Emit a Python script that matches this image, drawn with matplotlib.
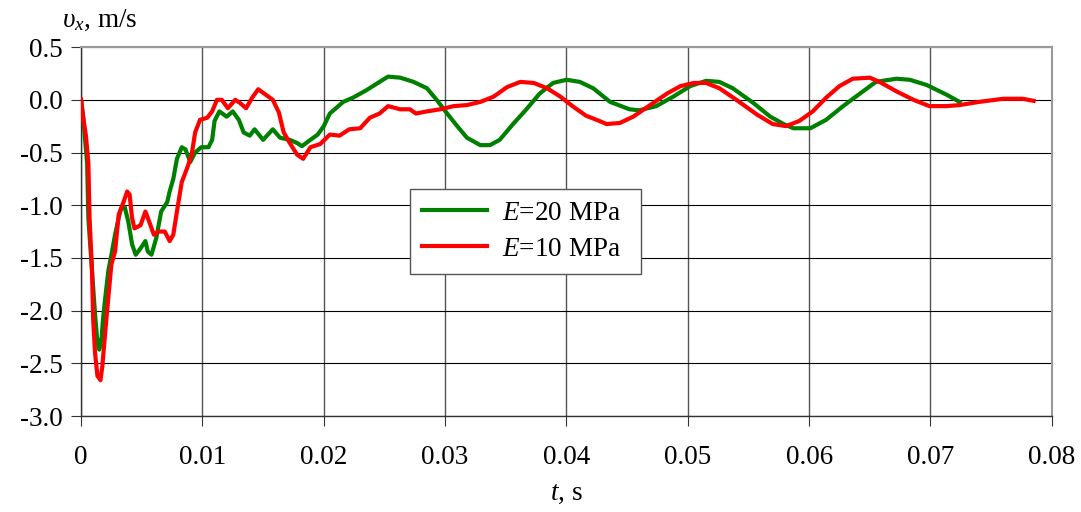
import numpy as np
import matplotlib
matplotlib.use("Agg")
import matplotlib.pyplot as plt

plt.rcParams['font.family'] = ['Liberation Serif', 'DejaVu Serif']
plt.rcParams['mathtext.fontset'] = 'custom'
plt.rcParams['mathtext.rm'] = 'Liberation Serif'
plt.rcParams['mathtext.it'] = 'Liberation Serif:italic'

# =========================
# DATA
# =========================
t_e20 = [0.0, 0.0002, 0.0003, 0.0005, 0.0006, 0.0009, 0.00115, 0.00135, 0.0015, 0.0017,
         0.0018, 0.002, 0.00225, 0.0025, 0.0028, 0.0031, 0.0033, 0.0036, 0.0039, 0.0042,
         0.0045, 0.0049, 0.0053, 0.0055, 0.0058, 0.0062, 0.0066, 0.0071, 0.0073, 0.0076,
         0.0079, 0.0083, 0.0086, 0.009, 0.0094, 0.0099, 0.0105, 0.0108, 0.011, 0.0114,
         0.012, 0.0125, 0.013, 0.0134, 0.0139, 0.0143, 0.015, 0.0158, 0.0164, 0.0172,
         0.0178, 0.0182, 0.0189, 0.0195, 0.02, 0.0205, 0.0216, 0.0224, 0.0235, 0.0246,
         0.0253, 0.0263, 0.0274, 0.0285, 0.0293, 0.0301, 0.031, 0.0318, 0.0329, 0.0337,
         0.0345, 0.0356, 0.0367, 0.0378, 0.0389, 0.04, 0.0411, 0.0422, 0.0436, 0.0452,
         0.046, 0.0474, 0.0488, 0.0502, 0.0515, 0.0526, 0.0537, 0.0554, 0.0568, 0.0579,
         0.0587, 0.0601, 0.0614, 0.0628, 0.0642, 0.0655, 0.0672, 0.0683, 0.0697, 0.0713,
         0.0724]
v_e20 = [0.0, -0.19, -0.34, -0.6, -1.12, -1.62, -2.03, -2.31, -2.37, -2.25,
         -2.09, -1.87, -1.62, -1.47, -1.28, -1.12, -1.03, -1.02, -1.16, -1.37,
         -1.47, -1.41, -1.34, -1.44, -1.47, -1.31, -1.06, -0.97, -0.87, -0.75,
         -0.56, -0.45, -0.47, -0.59, -0.5, -0.45, -0.45, -0.38, -0.2, -0.11,
         -0.16, -0.11, -0.19, -0.31, -0.34, -0.28, -0.38, -0.28, -0.36, -0.38,
         -0.41, -0.44, -0.38, -0.33, -0.25, -0.13, -0.02, 0.02, 0.09, 0.17,
         0.22, 0.21, 0.17, 0.11, 0.0, -0.12, -0.25, -0.36, -0.43, -0.43,
         -0.38, -0.23, -0.09, 0.06, 0.16, 0.19, 0.17, 0.11, -0.02, -0.09,
         -0.1, -0.06, 0.03, 0.13, 0.18, 0.17, 0.11, -0.03, -0.16, -0.23,
         -0.27, -0.27, -0.19, -0.06, 0.06, 0.17, 0.2, 0.19, 0.14, 0.05,
         -0.02]

t_e10 = [0.0, 0.0002, 0.0004, 0.0006, 0.0007, 0.0009, 0.001, 0.00115, 0.00135, 0.0016,
         0.00175, 0.002, 0.00225, 0.0025, 0.0028, 0.0031, 0.0035, 0.0038, 0.004, 0.0042,
         0.0044, 0.0049, 0.0053, 0.0055, 0.006, 0.0064, 0.0069, 0.0073, 0.0076, 0.0079,
         0.0083, 0.0087, 0.0091, 0.0094, 0.0098, 0.0104, 0.0108, 0.0112, 0.0116, 0.0121,
         0.0127, 0.0131, 0.0136, 0.0141, 0.0146, 0.0152, 0.0158, 0.0163, 0.0167, 0.0172,
         0.0178, 0.0183, 0.0189, 0.0197, 0.0205, 0.0213, 0.0221, 0.023, 0.0238, 0.0246,
         0.0253, 0.0263, 0.0271, 0.0276, 0.0285, 0.0296, 0.0307, 0.0318, 0.0329, 0.034,
         0.0351, 0.0362, 0.0373, 0.0384, 0.0395, 0.0405, 0.0416, 0.0427, 0.0433, 0.0444,
         0.0455, 0.0469, 0.0483, 0.0494, 0.0505, 0.0515, 0.0526, 0.054, 0.0557, 0.057,
         0.0581, 0.0592, 0.0603, 0.0614, 0.0625, 0.0636, 0.065, 0.0658, 0.0672, 0.0686,
         0.0699, 0.0713, 0.0724, 0.074, 0.076, 0.0776, 0.0785]
v_e10 = [0.0, -0.19, -0.34, -0.6, -1.12, -1.62, -2.09, -2.4, -2.62, -2.66,
         -2.53, -2.19, -1.87, -1.56, -1.44, -1.09, -0.97, -0.87, -0.9, -1.12,
         -1.22, -1.19, -1.06, -1.12, -1.28, -1.25, -1.25, -1.34, -1.28, -1.06,
         -0.78, -0.66, -0.53, -0.31, -0.19, -0.17, -0.11, 0.0, 0.0, -0.08,
         0.0, -0.03, -0.08, 0.02, 0.1, 0.05, 0.0, -0.12, -0.31, -0.41,
         -0.52, -0.56, -0.45, -0.42, -0.33, -0.34, -0.28, -0.27, -0.17, -0.13,
         -0.06, -0.09, -0.09, -0.13, -0.11, -0.09, -0.06, -0.05, -0.02, 0.03,
         0.12, 0.17, 0.16, 0.11, 0.03, -0.06, -0.15, -0.2, -0.23, -0.22,
         -0.16, -0.05, 0.06, 0.13, 0.16, 0.16, 0.11, 0.0, -0.14, -0.23,
         -0.25, -0.2, -0.11, 0.02, 0.13, 0.2, 0.21, 0.17, 0.08, 0.0,
         -0.06, -0.06, -0.05, -0.02, 0.01, 0.01, -0.01]

x_ticks = [0, 0.01, 0.02, 0.03, 0.04, 0.05, 0.06, 0.07, 0.08]
x_labels = ["0", "0.01", "0.02", "0.03", "0.04", "0.05", "0.06", "0.07", "0.08"]
y_ticks = [-3.0, -2.5, -2.0, -1.5, -1.0, -0.5, 0.0, 0.5]

# =========================
# PLOT
# =========================
fig = plt.figure(figsize=(10.81, 5.12), dpi=100)
ax = fig.add_axes([0.075, 0.1875, 0.898, 0.7205])

ax.plot(t_e20, v_e20, color="#008000", lw=3.0, label=r"$E$=20 MPa  ", zorder=3)
ax.plot(t_e10, v_e10, color="#ff0000", lw=3.0, label=r"$E$=10 MPa  ", zorder=4)

ax.set_xlim(0, 0.08)
ax.set_ylim(-3.0, 0.5)
ax.set_xticks(x_ticks)
ax.set_xticklabels(x_labels)
ax.set_yticks(y_ticks)
ax.set_yticklabels([f"{v:.1f}" for v in y_ticks])
ax.grid(True, color="black", lw=0.8)
ax.xaxis.grid(True, color="#555555", lw=1.0)
ax.set_axisbelow(True)
for s in ax.spines.values():
    s.set_color("#999999")
    s.set_linewidth(1.5)
ax.spines["left"].set_color("#333333")
ax.spines["left"].set_linewidth(1.0)
ax.spines["bottom"].set_color("#333333")
ax.spines["bottom"].set_linewidth(1.0)
ax.tick_params(axis="both", labelsize=19.5, length=7, color="#333333")
ax.tick_params(axis="x", pad=14)
ax.tick_params(axis="y", pad=6)

fig.text(62 / 1081, 1 - 27 / 512, r"$\upsilon_x$, m/s", fontsize=19.5,
         ha="left", va="baseline")
ax.set_xlabel(r"$t$, s", fontsize=19.5, labelpad=8)

leg = ax.legend(loc="upper left", bbox_to_anchor=(0.339, 0.616), fontsize=19.5,
                frameon=True, fancybox=False, edgecolor="#555555", framealpha=1,
                handlelength=2.4, handletextpad=0.55, borderpad=0.45,
                labelspacing=0.4, borderaxespad=0)
leg.get_frame().set_linewidth(1.0)

plt.savefig("out.png", dpi=100)
